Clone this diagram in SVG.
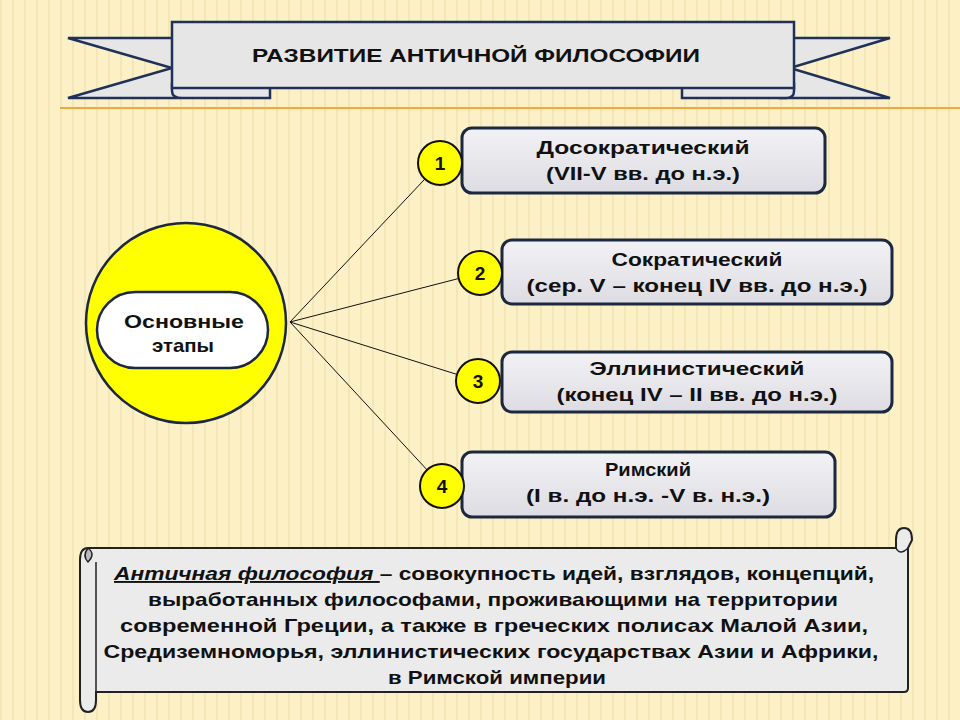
<svg xmlns="http://www.w3.org/2000/svg" width="960" height="720" viewBox="0 0 960 720">
<defs>
<style>
.t{font-family:"Liberation Sans",Arial,sans-serif;font-weight:bold;fill:#111;text-anchor:middle;font-size:19px}
.box{fill:url(#g);stroke:#1c2740;stroke-width:3}
.num{fill:#ffff00;stroke:#111;stroke-width:2}
.ln{stroke:#111;stroke-width:1}
.rib{fill:#e6e6e6;stroke:#1f3158;stroke-width:2.5}
</style>
<linearGradient id="g" x1="0" y1="0" x2="0" y2="1"><stop offset="0" stop-color="#f2f2f6"/><stop offset="1" stop-color="#dcdce2"/></linearGradient>
<pattern id="bg" width="12" height="720" patternUnits="userSpaceOnUse"><rect width="12" height="720" fill="#fbf0c6"/><rect width="2" height="720" fill="#f4e6b6"/></pattern>
</defs>
<rect width="960" height="720" fill="url(#bg)"/>
<g id="banner">
<polygon class="rib" points="68,38 180,38 180,98 68,98 172,68"/>
<polygon class="rib" points="890,38 780,38 780,98 890,98 790,68"/>
<path class="rib" d="M172,84 L270,84 L270,98 L182,98 Q172,98 172,91 Z"/>
<path class="rib" d="M794,84 L682,84 L682,98 L786,98 Q794,98 794,91 Z"/>
<rect class="rib" x="172" y="22" width="622" height="66"/>
<text class="t" x="476" y="62" textLength="448" lengthAdjust="spacingAndGlyphs">РАЗВИТИЕ  АНТИЧНОЙ ФИЛОСОФИИ</text>
</g>
<line x1="60" y1="108" x2="960" y2="108" stroke="#f0a840" stroke-width="2"/>
<g id="connectors">
<line class="ln" x1="290" y1="322" x2="440" y2="163"/>
<line class="ln" x1="290" y1="322" x2="480" y2="273"/>
<line class="ln" x1="290" y1="322" x2="478" y2="381"/>
<line class="ln" x1="290" y1="322" x2="442" y2="486"/>
</g>
<g id="main">
<circle cx="186" cy="323" r="100" fill="#ffff00" stroke="#1c2740" stroke-width="2.5"/>
<rect x="97" y="292" width="171" height="76" rx="38" fill="#fff" stroke="#1c2740" stroke-width="2.5"/>
<text class="t" x="184" y="328" textLength="120" lengthAdjust="spacingAndGlyphs">Основные</text>
<text class="t" x="183" y="352" textLength="62" lengthAdjust="spacingAndGlyphs">этапы</text>
</g>
<g id="s1"><rect class="box" x="462" y="128" width="363" height="65" rx="10"/>
<text class="t" x="643" y="154" textLength="213" lengthAdjust="spacingAndGlyphs">Досократический</text><text class="t" x="643" y="180" textLength="194" lengthAdjust="spacingAndGlyphs">(VII-V вв. до н.э.)</text>
<circle class="num" cx="440" cy="163" r="22"/><text class="t" x="440" y="170">1</text></g>
<g id="s2"><rect class="box" x="502" y="240" width="390" height="64" rx="10"/>
<text class="t" x="697" y="266" textLength="171" lengthAdjust="spacingAndGlyphs">Сократический</text><text class="t" x="697" y="292" textLength="341" lengthAdjust="spacingAndGlyphs">(сер. V – конец IV вв. до н.э.)</text>
<circle class="num" cx="480" cy="273" r="22"/><text class="t" x="480" y="280">2</text></g>
<g id="s3"><rect class="box" x="502" y="352" width="390" height="60" rx="10"/>
<text class="t" x="697" y="375" textLength="215" lengthAdjust="spacingAndGlyphs">Эллинистический</text><text class="t" x="697" y="401" textLength="281" lengthAdjust="spacingAndGlyphs">(конец IV – II вв. до н.э.)</text>
<circle class="num" cx="478" cy="381" r="22"/><text class="t" x="478" y="388">3</text></g>
<g id="s4"><rect class="box" x="462" y="452" width="373" height="65" rx="10"/>
<text class="t" x="648" y="476" textLength="86" lengthAdjust="spacingAndGlyphs">Римский</text><text class="t" x="648" y="502" textLength="244" lengthAdjust="spacingAndGlyphs">(I в. до н.э. -V в. н.э.)</text>
<circle class="num" cx="442" cy="486" r="22"/><text class="t" x="442" y="493">4</text></g>
<g id="scroll">
<path d="M88,548 L896,548 L896,540 Q896,528 904,528 Q912,528 912,540 L908,548 L908,688 Q908,692 904,692 L96,692 L96,700 Q96,712 88,712 Q80,712 80,700 L80,560 Q80,548 88,548 Z" fill="#ebebeb" stroke="#222" stroke-width="2"/>
<path d="M896,548 Q900,556 908,548" fill="none" stroke="#222" stroke-width="1.5"/>
<path d="M88,548 Q96,554 88,562 Q82,556 88,548" fill="#bbb" stroke="#222" stroke-width="1.5"/>
<line x1="96" y1="562" x2="96" y2="692" stroke="#222" stroke-width="1.5"/>
<text class="t" x="494" y="580" textLength="760" lengthAdjust="spacingAndGlyphs"><tspan font-style="italic" text-decoration="underline">Античная философия </tspan>– совокупность идей, взглядов, концепций,</text>
<text class="t" x="493" y="606" textLength="690" lengthAdjust="spacingAndGlyphs">выработанных философами, проживающими на территории</text>
<text class="t" x="494" y="632" textLength="748" lengthAdjust="spacingAndGlyphs">современной Греции, а также в греческих полисах Малой Азии,</text>
<text class="t" x="491" y="658" textLength="775" lengthAdjust="spacingAndGlyphs">Средиземноморья, эллинистических государствах Азии и Африки,</text>
<text class="t" x="497" y="684" textLength="218" lengthAdjust="spacingAndGlyphs">в Римской империи</text>
</g>
</svg>
